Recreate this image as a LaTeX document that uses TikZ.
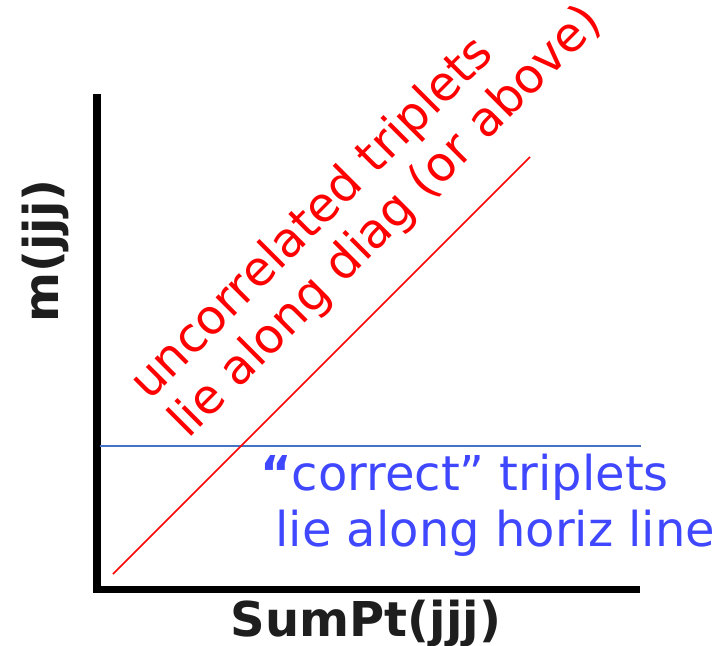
\documentclass[tikz,border=0pt]{standalone}
\usepackage{fontspec}
\setmainfont{DejaVu Sans}
\usepackage{tikz}
\definecolor{axisgray}{RGB}{30,30,30}
\definecolor{lineblue}{RGB}{68,114,196}
\definecolor{textblue}{RGB}{64,72,255}
\tikzset{
  bigtext/.style={font=\fontsize{48}{56}\selectfont, inner sep=0pt},
  axislabel/.style={bigtext, font=\fontsize{48}{56}\selectfont\bfseries, text=axisgray}
}

\begin{document}
\begin{tikzpicture}[x=1pt, y=-1pt]
        \useasboundingbox (0,0) rectangle (719,645);

        % Ejes
        \coordinate (top) at (97,94);
        \coordinate (origin) at (97,589.5);
        \coordinate (right) at (640,589.5);
        \draw[line width=8pt] (top) -- (origin |- 0,593);
        \draw[line width=7.5pt] (93,589.5) -- (right);
        \node[axislabel, anchor=base] (xlab) at (366,636) {SumPt(jjj)};
        \node[axislabel, anchor=base, rotate=90] (ylab) at (58,251) {m(jjj)};

        % Lineas
        \coordinate (h0) at (100,445.5);
        \coordinate (h1) at (641,445.5);
        \draw[lineblue, line width=2pt] (h0) -- (h1);
        \coordinate (d0) at (113,574);
        \coordinate (d1) at (530,157);
        \draw[red, line width=1.5pt] (d0) -- (d1);

        % Textos
        \node[bigtext, red, rotate=45, anchor=base west] (diag1) at (149,402) {uncorrelated triplets};
        \node[bigtext, red, rotate=45, anchor=base west] (diag2) at (188,440) {lie along diag (or above)};
        \node[bigtext, textblue, anchor=base west] (horiz1) at (260,490) {{\bfseries “}correct” triplets};
        \node[bigtext, textblue, anchor=base west] (horiz2) at (260,546) {\ lie along horiz line};
\end{tikzpicture}
\end{document}
